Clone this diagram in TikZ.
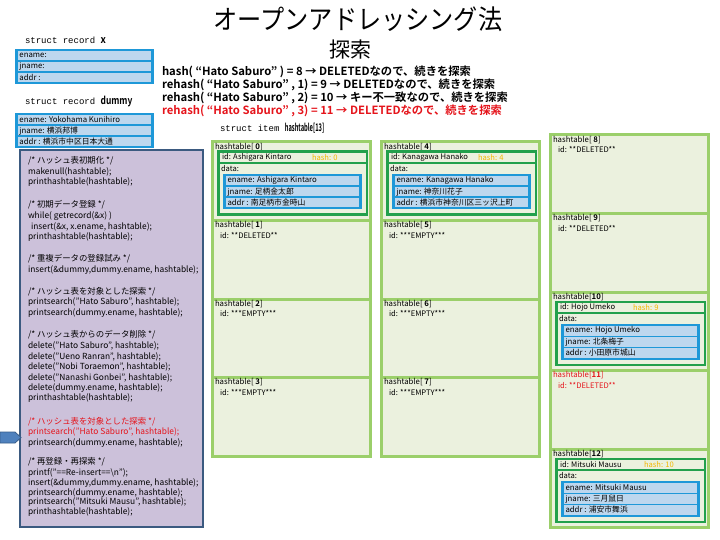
\documentclass[tikz,border=0pt]{standalone}
\usepackage{fontspec}
\setmainfont{Noto Sans CJK JP}[BoldFont={Noto Sans CJK JP Bold}]
\newfontfamily\mono{Liberation Mono}
\definecolor{recblue}{HTML}{1E98D8}
\definecolor{rowblue}{HTML}{BDD7EE}
\definecolor{dkgreen}{HTML}{22A04C}
\definecolor{ltgreen}{HTML}{9BCF6A}
\definecolor{cellfill}{HTML}{EBF1DE}
\definecolor{panelfill}{HTML}{CCC1DA}
\definecolor{panelline}{HTML}{3B5A80}
\definecolor{hashor}{HTML}{F2B700}
\definecolor{hred}{HTML}{E5141B}
\definecolor{arrfill}{HTML}{4F81BD}
\definecolor{arrline}{HTML}{385D8A}
\tikzset{
  txt/.style={anchor=west,inner sep=0pt,outer sep=0pt},
  rec/.style={txt,font=\fontsize{7.8}{8}\selectfont},
  ctxt/.style={txt,font=\fontsize{7.6}{8}\selectfont},
  clbl/.style={txt,font=\fontsize{7.8}{8}\selectfont},
  code/.style={txt,font=\fontsize{8.4}{9}\selectfont},
  hl/.style={txt,font=\bfseries\fontsize{11.3}{12}\selectfont},
  stl/.style={txt,font=\mono\fontsize{9}{10}\selectfont},
  cell/.style={draw=ltgreen,fill=cellfill,line width=3pt},
}
\newcommand\narrowbf[2]{\scalebox{#1}[1]{\rmfamily\bfseries\fontsize{10.5}{11}\selectfont #2}}
\newcommand\RecBox[6]{%
  \fill[recblue] (#2,#3) rectangle ++(139,35.5);
  \fill[rowblue] (#2+3,#3+2) rectangle (#2+136,#3+11.5);
  \fill[rowblue] (#2+3,#3+13) rectangle (#2+136,#3+22.5);
  \fill[rowblue] (#2+3,#3+24) rectangle (#2+136,#3+33.5);
  \node[rec] (#1-e) at (#2+4.5,#3+6.75) {ename: #4};
  \node[rec] (#1-j) at (#2+4.5,#3+17.75) {jname: #5};
  \node[rec] (#1-a) at (#2+4.5,#3+28.75) {addr : #6};
}
\newcommand\hx{100}
\newcommand\OccCell[9]{%
  \draw[cell] (#2,#3) rectangle ++(158,78.5);
  \node[clbl] (#1-l) at (#2+3,#3+5) {hashtable[#4]};
  \fill[dkgreen] (#2+5,#3+8.5) rectangle (#2+156,#3+74);
  \fill[cellfill] (#2+7.5,#3+11) rectangle (#2+153.5,#3+20);
  \fill[cellfill] (#2+7.5,#3+22) rectangle (#2+153.5,#3+71.5);
  \node[ctxt] (#1-id) at (#2+10,#3+15.5) {id: #5};
  \node[ctxt,text=hashor] (#1-h) at (#2+\hx,#3+15.5) {hash: #6};
  \node[ctxt] (#1-d) at (#2+9,#3+26.5) {data:};
  \RecBox{#1-r}{#2+11}{#3+32}{#7}{#8}{#9}
}
\newcommand\EmpCell[6]{%
  \draw[cell] (#2,#3) rectangle ++(158,78.5);
  \node[clbl,text=#6] (#1-l) at (#2+3,#3+5) {hashtable[#4]};
  \node[ctxt,text=#6] (#1-id) at (#2+8,#3+15) {id: #5};
}
\begin{document}
\begin{tikzpicture}[x=1pt,y=-1pt]
\useasboundingbox (0,0) rectangle (720,540);
\fill[white] (0,0) rectangle (720,540);
% title
\node[font=\fontsize{27}{28}\selectfont,inner sep=0pt,xscale=0.895] (title1) at (358,19.5) {オープンアドレッシング法};
\node[font=\fontsize{21}{22}\selectfont,inner sep=0pt] (title2) at (350,50) {探索};
% hash lines
\node[hl] (h1) at (162,72) {hash( “Hato Saburo” ) = 8 → DELETEDなので、続きを探索};
\node[hl] (h2) at (162,85) {rehash( “Hato Saburo” , 1) = 9 → DELETEDなので、続きを探索};
\node[hl] (h3) at (162,98) {rehash( “Hato Saburo” , 2) = 10 → キー不一致なので、続きを探索};
\node[hl,text=hred] (h4) at (162,111) {rehash( “Hato Saburo” , 3) = 11 → DELETEDなので、続きを探索};
% struct labels
\node[stl] (sx) at (25,40) {struct record \narrowbf{0.9}{x}};
\node[stl] (sd) at (25,101) {struct record \narrowbf{0.8}{dummy}};
\node[stl] (si) at (220,128) {struct item \narrowbf{0.55}{hashtable[13]}};
% records
\RecBox{rx}{15}{49}{}{}{}
\RecBox{rd}{15}{113}{Yokohama Kunihiro}{横浜邦博}{横浜市中区日本大通}
% panel
\draw[fill=panelfill,draw=panelline,line width=2pt] (20,150) rectangle (203,527);
\node[code] (p1) at (28,161) {/* ハッシュ表初期化 */};
\node[code] (p2) at (28,172) {makenull(hashtable);};
\node[code] (p3) at (28,182.5) {printhashtable(hashtable);};
\node[code] (p4) at (28,205) {/* 初期データ登録 */};
\node[code] (p5) at (28,216) {while( getrecord(\&x) )};
\node[code] (p6) at (31,226.5) {insert(\&x, x.ename, hashtable);};
\node[code] (p7) at (28,237) {printhashtable(hashtable);};
\node[code] (p8) at (28,259) {/* 重複データの登録試み */};
\node[code] (p9) at (28,270.5) {insert(\&dummy,dummy.ename, hashtable);};
\node[code] (p10) at (28,291.5) {/* ハッシュ表を対象とした探索 */};
\node[code] (p11) at (28,302.5) {printsearch("Hato Saburo", hashtable);};
\node[code] (p12) at (28,313) {printsearch(dummy.ename, hashtable);};
\node[code] (p13) at (28,335) {/* ハッシュ表からのデータ削除 */};
\node[code] (p14) at (28,346) {delete("Hato Saburo", hashtable);};
\node[code] (p15) at (28,356.5) {delete("Ueno Ranran", hashtable);};
\node[code] (p16) at (28,367) {delete("Nobi Toraemon", hashtable);};
\node[code] (p17) at (28,377.5) {delete("Nanashi Gonbei", hashtable);};
\node[code] (p18) at (28,388) {delete(dummy.ename, hashtable);};
\node[code] (p19) at (28,398.5) {printhashtable(hashtable);};
\node[code,text=hred] (p20) at (28,421.5) {/* ハッシュ表を対象とした探索 */};
\node[code,text=hred] (p21) at (28,432.5) {printsearch("Hato Saburo", hashtable);};
\node[code] (p22) at (28,443) {printsearch(dummy.ename, hashtable);};
\node[code] (p23) at (28,462) {/* 再登録・再探索 */};
\node[code] (p24) at (28,473) {printf("==Re-insert==\textbackslash n");};
\node[code] (p25) at (28,483) {insert(\&dummy,dummy.ename, hashtable);};
\node[code] (p26) at (28,493) {printsearch(dummy.ename, hashtable);};
\node[code] (p27) at (28,502.5) {printsearch("Mitsuki Mausu", hashtable);};
\node[code] (p28) at (28,512) {printhashtable(hashtable);};
% arrow marker
\draw[fill=arrfill,draw=arrline,line width=0.8pt] (0,432) -- (15,432) -- (21,437.5) -- (15,443) -- (0,443) -- cycle;
% hashtable column 1
\renewcommand\hx{100}
\OccCell{c0}{212}{142}{ \textbf{0}}{Ashigara Kintaro}{0}{Ashigara Kintaro}{足柄金太郎}{南足柄市金時山}
\EmpCell{c1}{212}{220.5}{ \textbf{1}}{**DELETED**}{black}
\EmpCell{c2}{212}{299}{ \textbf{2}}{***EMPTY***}{black}
\EmpCell{c3}{212}{377.5}{ \textbf{3}}{***EMPTY***}{black}
% column 2
\renewcommand\hx{97}
\OccCell{c4}{381}{142}{ \textbf{4}}{Kanagawa Hanako}{4}{Kanagawa Hanako}{神奈川花子}{横浜市神奈川区三ッ沢上町}
\EmpCell{c5}{381}{220.5}{ \textbf{5}}{***EMPTY***}{black}
\EmpCell{c6}{381}{299}{ \textbf{6}}{***EMPTY***}{black}
\EmpCell{c7}{381}{377.5}{ \textbf{7}}{***EMPTY***}{black}
% column 3
\EmpCell{c8}{550}{135}{ \textbf{8}}{**DELETED**}{black}
\EmpCell{c9}{550}{213.5}{ \textbf{9}}{**DELETED**}{black}
\renewcommand\hx{83}
\OccCell{c10}{550}{292}{\textbf{10}}{Hojo Umeko}{9}{Hojo Umeko}{北条梅子}{小田原市城山}
\EmpCell{c11}{550}{370.5}{\textbf{11}}{**DELETED**}{hred}
\renewcommand\hx{94}
\OccCell{c12}{550}{449}{\textbf{12}}{Mitsuki Mausu}{10}{Mitsuki Mausu}{三月鼠日}{浦安市舞浜}
\end{tikzpicture}
\end{document}
